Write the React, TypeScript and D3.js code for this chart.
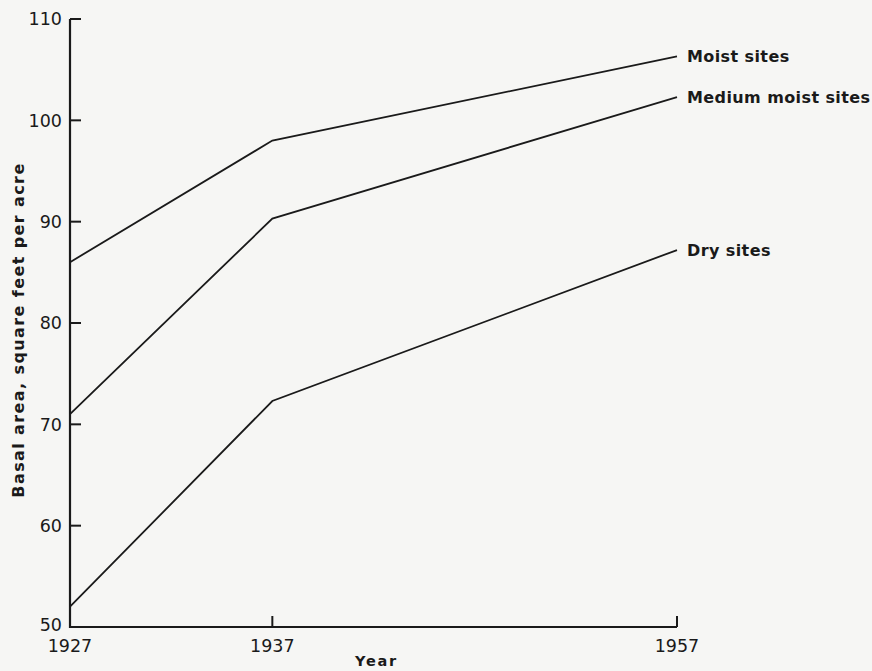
import * as d3 from "d3";

const years = [1927, 1937, 1957];
const moist = [86, 98, 106.3];
const mediumMoist = [71, 90.3, 102.3];
const dry = [52, 72.3, 87.2];
const seriesNames = ["Moist sites", "Medium moist sites", "Dry sites"];
const yTicks = [50, 60, 70, 80, 90, 100, 110];

const W = 872;
const H = 671;
const font = "'DejaVu Sans', sans-serif";
const ink = "#1a1a1a";

export default function App() {
  const x = d3.scaleLinear().domain([1927, 1957]).range([70, 677]);
  const y = d3.scaleLinear().domain([50, 110]).range([627, 19]);

  const line = d3
    .line<number>()
    .x((_, i) => x(years[i]))
    .y((d) => y(d));

  const series = [moist, mediumMoist, dry];

  return (
    <svg
      width={W}
      height={H}
      style={{ position: "absolute", left: 0, top: 0, background: "#f6f6f4" }}
    >
      {/* axes */}
      <path
        d={`M${x(1927)},${y(110)}V${y(50)}H${x(1957)}`}
        fill="none"
        stroke={ink}
        strokeWidth={2.2}
      />
      {yTicks.map((t) => (
        <g key={t}>
          {t > 50 && (
            <line
              x1={x(1927)}
              x2={x(1927) + 11}
              y1={y(t)}
              y2={y(t)}
              stroke={ink}
              strokeWidth={2}
            />
          )}
          <text
            x={x(1927) - 8}
            y={t === 50 ? y(t) - 2 : y(t)}
            dy="0.36em"
            textAnchor="end"
            fontFamily={font}
            fontSize={17.5}
            fill={ink}
          >
            {t}
          </text>
        </g>
      ))}
      {years.map((yr) => (
        <g key={yr}>
          {yr > 1927 && (
            <line
              x1={x(yr)}
              x2={x(yr)}
              y1={y(50)}
              y2={y(50) - 11}
              stroke={ink}
              strokeWidth={2}
            />
          )}
          <text
            x={x(yr)}
            y={y(50) + 19}
            dy="0.36em"
            textAnchor="middle"
            fontFamily={font}
            fontSize={17.5}
            fill={ink}
          >
            {yr}
          </text>
        </g>
      ))}
      <text
        x={(x(1927) + x(1957)) / 2 + 3}
        y={661}
        dy="0.36em"
        textAnchor="middle"
        fontFamily={font}
        fontSize={14.5}
        fontWeight="bold"
        letterSpacing={1.8}
        fill={ink}
      >
        Year
      </text>
      <text
        transform={`translate(18,330) rotate(-90)`}
        dy="0.36em"
        textAnchor="middle"
        fontFamily={font}
        fontSize={16}
        fontWeight="bold"
        letterSpacing={1.4}
        fill={ink}
      >
        Basal area, square feet per acre
      </text>

      {/* series */}
      {series.map((s, i) => (
        <g key={seriesNames[i]}>
          <path d={line(s) ?? ""} fill="none" stroke={ink} strokeWidth={1.8} />
          <text
            x={x(1957) + 10}
            y={y(s[s.length - 1])}
            dy="0.36em"
            fontFamily={font}
            fontSize={16}
            fontWeight="bold"
            letterSpacing={0.4}
            fill={ink}
          >
            {seriesNames[i]}
          </text>
        </g>
      ))}
    </svg>
  );
}
